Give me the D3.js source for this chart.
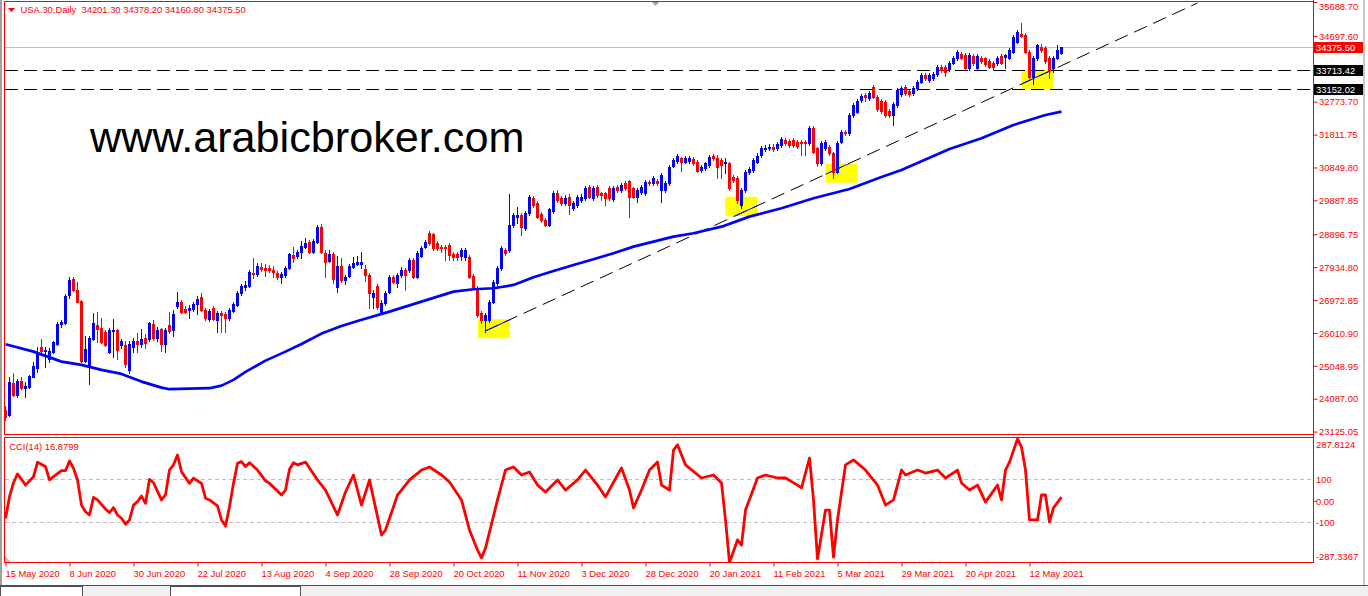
<!DOCTYPE html>
<html><head><meta charset="utf-8">
<script src="https://cdn.jsdelivr.net/npm/d3@7"></script>
<style>
html,body{margin:0;padding:0;background:#fff;overflow:hidden;}
svg{display:block;}
text{font-family:"Liberation Sans",Arial,sans-serif;}
</style></head><body>
<svg id="c" width="1368" height="596"></svg>
<script>
// ---------- DATA ----------
const symbolTitle = "USA.30,Daily  34201.30 34378.20 34160.80 34375.50";
const cciTitle = "CCI(14) 16.8799";
const watermark = "www.arabicbroker.com";

const opens = [23760,23614,24549,24198,24616,24412,24441,24734,24988,25602,25485,25251,25456,25689,26274,26304,27122,27590,27268,26947,
25201,25026,25835,26245,26167,26049,25464,26070,26099,25660,25660,24929,25602,25777,25689,25865,25844,26274,25874,26128,
25689,26245,26099,26810,26926,26712,26684,26713,26859,27064,26684,26421,26742,26391,26596,26576,26450,26663,26830,27181,
27365,27394,27765,27736,27950,27921,27912,27853,27765,27658,27707,27921,28292,28271,28380,28535,28681,28388,28681,29110,
28350,28125,28321,27365,27970,27561,27686,27950,28029,28029,27882,27707,27064,27394,26626,26889,27219,27648,27464,27707,
27853,27853,28146,27658,28271,28535,28935,28906,28643,28535,28535,28584,28321,28321,28271,28242,28242,27686,27326,26596,
26391,26391,26926,27473,27912,28438,28438,29169,29412,29461,29081,29520,29958,29812,29491,29315,29169,29578,30105,29958,
29803,29996,29657,29754,29900,29958,30289,29949,30289,30096,30096,30260,29929,30289,30192,30406,30456,30242,29996,30125,
30096,30435,30388,30456,30192,30192,30388,30904,31040,31119,31020,31040,31099,31020,30777,30827,30924,31187,31137,31070,
30973,30973,30581,30534,29754,30192,30710,30777,31020,31216,31391,31412,31459,31412,31508,31654,31625,31654,31605,31587,
31605,31558,31996,31412,30973,31412,31459,31265,30728,31605,31898,31850,32385,32482,32824,32970,32873,33213,32920,32795,
32766,32502,32385,32678,32991,33213,33087,33020,33166,33359,33555,33409,33458,33575,33798,33798,33731,33915,34043,34160,
34140,33751,34119,33769,34061,34043,33964,33915,33897,34119,34090,34061,34236,34529,34754,34725,34236,33505,34043,34383,
34336,34043,33751,34061,34201.30];
const highs = [23877,24724,24841,24666,24724,24587,24783,25172,25602,25835,25593,25572,25777,26333,26391,27151,27648,27657,27511,26976,
25923,25923,26605,26634,26450,26099,26157,26411,26128,25835,25777,25777,25865,26011,26128,25982,26333,26391,26186,26157,
26157,26634,26684,27210,26976,26800,26830,26918,27093,27181,26742,26713,26800,26655,26655,26626,26742,26918,27239,27444,
27531,27853,28204,28058,28058,28029,27999,27970,27824,27795,27970,28350,28517,28438,28701,28789,28730,28760,29169,29198,
28438,28438,28380,28263,28204,27707,28029,28242,28263,28389,27999,27765,27268,27444,26976,27239,27707,27707,27765,27941,
27912,28204,28204,28409,28555,28730,28994,28935,28701,28584,28584,28643,28380,28380,28496,28496,28292,27736,27385,26655,
26596,26976,27561,27970,28555,28496,30075,29520,29704,29520,29578,30046,30017,29871,29549,29374,29666,30163,30192,30017,
30046,30075,29871,30046,30075,30310,30339,30310,30339,30134,30134,30310,30310,30339,30397,30456,30485,30280,30251,30339,
30485,30485,30602,30514,30690,30456,30924,31128,31245,31157,31187,31187,31157,31070,30924,31011,31216,31245,31216,31128,
31137,31011,30631,30602,30251,30777,30865,31128,31274,31479,31508,31537,31537,31596,31742,31713,31684,31713,31654,31654,
31654,32064,32064,31450,31625,31654,31508,31304,31625,31947,31947,32444,32736,32853,33000,33029,33087,33263,32970,32853,
32824,32561,32766,33175,33233,33263,33146,33233,33409,33614,33614,33614,33643,33847,33847,33847,33965,34111,34286,34228,
34198,34198,34169,34169,34111,34081,34023,33964,34111,34169,34169,34344,34725,34871,35067,34783,34286,34111,34461,34461,
34403,34111,34111,34432,34378.20];
const lows = [23467,23585,24169,24148,24374,24148,24403,24724,24871,25368,25017,25172,25426,25660,26186,26274,27034,27239,26918,25163,
25163,24520,25806,25757,25719,25631,25426,25318,25251,25572,25017,24841,25456,25456,25602,25572,25777,25806,25777,25485,
25456,26011,25923,26742,26596,26596,26450,26655,26567,26655,26391,26362,26391,26040,26040,26040,26391,26626,26800,27122,
27268,27356,27619,27678,27824,27678,27795,27648,27590,27473,27648,27882,28087,28204,28204,28496,28350,28350,28643,28350,
27658,28087,27473,27201,27502,27436,27648,27912,28000,27912,27540,26742,26742,26713,26596,26830,27181,27473,27356,27648,
27268,27795,27619,27619,28233,28496,28584,28438,28438,28380,28146,28146,28146,28146,28146,28146,27619,27326,26480,26304,
26049,26333,26889,27414,27853,28292,28380,29110,29219,28877,29023,29461,29695,29374,29257,29140,29140,29520,29842,29754,
29754,29491,29608,29695,29842,29900,29958,29900,29988,29900,29754,29900,29871,30134,30134,30192,29412,29958,29842,30075,
30046,30339,30339,30339,29851,30134,30339,30865,30982,30748,30982,30982,30924,30719,30719,30777,30865,31070,30543,30543,
30681,30192,30426,29821,29657,30134,30660,30719,30982,31157,31333,31362,31333,31362,31450,31508,31450,31450,31421,31216,
31216,31508,31274,30894,30924,31362,31216,30543,30690,31567,31801,31801,32327,32444,32766,32795,32824,32882,32502,32444,
32327,32327,32093,32619,32941,32970,32941,32970,33116,33321,33409,33350,33409,33526,33643,33535,33672,33877,33994,34023,
33701,33701,33848,33701,33906,33818,33760,33701,33848,33877,33751,34023,34198,34491,34666,34198,33467,33283,33994,34228,
33906,33459,33643,34023,34160.80];
const closes = [23555,24587,24198,24616,24403,24461,24754,25046,25426,25493,25514,25493,25748,26274,26333,27093,27561,27268,26926,25201,
25543,25865,26312,26128,25757,25660,26099,26099,25514,25777,25105,25689,25777,25689,25844,25728,26304,25865,26099,25689,
26099,26078,26567,26918,26634,26616,26751,26859,27005,26684,26450,26655,26421,26605,26538,26450,26693,26859,27190,27394,
27424,27804,27736,27970,27882,27853,27853,27786,27648,27736,27921,28321,28213,28388,28555,28652,28388,28701,29110,28371,
28078,28321,27590,27970,27561,27658,27979,28058,28096,28096,27707,27181,27181,26780,26889,27181,27648,27511,27707,27853,
27707,28146,27658,28350,28496,28672,28643,28496,28496,28488,28488,28292,28242,28242,28438,28438,27658,27365,26538,26391,
26538,26926,27511,27912,28496,28341,29169,29461,29461,29119,29520,29996,29754,29412,29315,29169,29637,30105,29900,29803,
29967,29754,29803,29996,29996,30251,29996,30242,30046,30046,29949,29949,30260,30192,30339,30242,29996,29996,30192,30271,
30435,30388,30534,30388,30631,30388,30874,31070,31195,31020,31119,31119,30973,30757,30874,30973,31166,31119,30874,30924,
31020,30242,30485,29900,30192,30728,30807,31070,31195,31412,31429,31459,31391,31529,31684,31558,31508,31508,31488,31558,
31558,31996,31312,30973,31558,31587,31265,30728,31558,31898,31850,32385,32678,32795,32950,32920,33020,32920,32561,32502,
32385,32385,32707,33116,33184,33020,32991,33184,33359,33555,33458,33555,33575,33798,33701,33652,33915,34061,34236,34061,
33751,34140,33897,34119,33964,33868,33798,33798,34061,33915,34140,34286,34675,34804,34704,34236,33505,34043,34432,34286,
33964,33701,34061,34286,34375.50];

// moving average (blue line), read at sample bars
const maBars   = [0,7,14,19,24,29,34,39,41,46,51,54,57,60,65,70,74,79,84,88,96,104,112,117,122,127,132,137,142,147,152,157,162,167,172,179,186,194,202,211,219,224,236,244,252,260,264];
const maValues = [25681,25464,25172,25075,24929,24812,24587,24412,24365,24382,24394,24470,24637,24871,25201,25464,25689,25991,26216,26362,26634,26926,27219,27289,27318,27414,27639,27824,27999,28166,28341,28535,28681,28827,28925,29119,29412,29657,29949,30222,30573,30777,31390,31704,32093,32385,32482];

// CCI(14), read at its turning points
const cciBars   = [0,1,2,3,4,5,7,8,10,11,12,14,15,16,17,18,19,20,21,22,23,25,26,27,28,29,30,31,32,33,34,35,36,37,39,40,41,42,43,44,46,47,49,50,51,53,54,55,56,57,58,59,60,61,63,65,66,69,70,71,72,73,75,78,80,83,85,87,89,91,94,95,98,99,101,104,106,109,111,114,116,118,119,120,123,125,127,129,131,133,135,138,140,143,145,148,150,153,154,156,157,159,161,163,164,166,167,168,170,174,177,179,180,181,183,184,185,188,190,193,195,198,199,201,202,203,205,206,207,208,210,212,215,218,220,222,224,225,228,230,233,235,238,239,241,243,245,248,249,250,251,253,254,255,256,258,259,260,261,262,264];
const cciValues = [-81,19,84,125,100,73,112,179,159,97,112,140,140,185,151,97,-20,-51,-66,16,4,-38,-55,-32,-66,-81,-109,-89,-20,-4,22,-12,100,84,4,27,143,167,213,135,81,105,81,12,4,-24,-89,-117,-27,81,174,182,159,177,143,93,81,27,50,147,177,167,180,97,50,-66,41,120,-20,97,-159,-136,27,50,97,143,157,120,87,4,-136,-229,-265,-220,4,143,157,120,134,73,41,97,50,97,143,73,18,120,153,50,-33,50,143,180,73,50,236,260,167,106,120,83,-89,-287.3367,-182,-206,-43,106,120,106,106,73,60,199,4,-270,-43,-43,-262,-89,167,190,143,73,-20,4,143,120,143,129,143,106,143,83,50,73,-6,73,4,143,180,287.8124,250,143,-89,-89,27,27,-99,-33,16.8799];

const priceTicks = [35688.70,34697.60,32773.70,31811.75,30849.80,29887.85,28896.75,27934.80,26972.85,26010.90,25048.95,24087.00,23125.05];
const cciTicks = [287.8124,100,0,-100,-287.3367];
const cciTickLabels = ["287.8124","100","0.00","-100","-287.3367"];
const cciLevels = [100,-100];
const dateTickBars = [0,16,32,48,64,80,96,112,128,144,160,176,192,208,224,240,256];
const dateTickLabels = ["15 May 2020","8 Jun 2020","30 Jun 2020","22 Jul 2020","13 Aug 2020","4 Sep 2020","28 Sep 2020","20 Oct 2020","11 Nov 2020","3 Dec 2020","28 Dec 2020","20 Jan 2021","11 Feb 2021","5 Mar 2021","29 Mar 2021","20 Apr 2021","12 May 2021"];

const lastPrice = 34375.50;
const hLevels = [33713.42, 33152.02];
const zoneBars0 = [118.1,180,205,254];
const zoneBars1 = [126,187.9,212.9,261.9];
const zoneTop = [26412,29996,30953,33713.42];
const zoneBottom = [25856,29432,30406,33152.02];
const trendBars = [120,298];
const trendPrices = [26070,35660];

// ---------- DRAWING ----------
const svg = d3.select("#c");
const RED = "#ff0000", BLUE = "#0000ff", FS = "9.4px";
const L = 5, R = 1313;
const x = d3.scaleLinear().domain([0,327]).range([5.5,1313.5]);
const y = d3.scaleLinear().domain([23125.05,35688.70]).range([431.6,2.03]);
const cy = d3.scaleLinear().domain([-287.3367,287.8124]).range([562.6,438.9]);

const defs = svg.append("defs");
defs.append("clipPath").attr("id","mainClip").append("rect").attr("x",L).attr("y",2).attr("width",R-L).attr("height",432);
defs.append("clipPath").attr("id","cciClip").append("rect").attr("x",L).attr("y",438).attr("width",R-L).attr("height",124.5);
zoneBars0.forEach((b,i)=>{
  defs.append("clipPath").attr("id","zc"+i).append("rect")
    .attr("x",x(b)).attr("y",y(zoneTop[i])).attr("width",x(zoneBars1[i])-x(b)).attr("height",y(zoneBottom[i])-y(zoneTop[i]));
});

svg.append("rect").attr("width",1368).attr("height",596).attr("fill","#fff");
svg.append("rect").attr("x",0).attr("y",0).attr("width",2).attr("height",585).attr("fill","#a0a0a0");
svg.append("rect").attr("x",1363).attr("y",0).attr("width",2).attr("height",585).attr("fill","#c8c8c8");

const main = svg.append("g").attr("clip-path","url(#mainClip)");

// zones
zoneBars0.forEach((b,i)=>{
  main.append("rect").attr("x",x(b)).attr("y",y(zoneTop[i]))
    .attr("width",x(zoneBars1[i])-x(b)).attr("height",y(zoneBottom[i])-y(zoneTop[i]))
    .attr("fill","#ffff00");
});
// horizontal levels
hLevels.forEach(p=>{
  const yy = Math.round(y(p))+0.5;
  main.append("line").attr("x1",L).attr("x2",R).attr("y1",yy).attr("y2",yy)
    .attr("stroke","#000").attr("stroke-width",1.2).attr("stroke-dasharray","13,6");
});
// last price line
{
  const yy = Math.round(y(lastPrice))+0.5;
  main.append("line").attr("x1",L).attr("x2",R).attr("y1",yy).attr("y2",yy).attr("stroke","#c0c0c0").attr("stroke-width",1);
}
// trend line
main.append("line").attr("x1",x(trendBars[0])).attr("y1",y(trendPrices[0]))
  .attr("x2",x(trendBars[1])).attr("y2",y(trendPrices[1]))
  .attr("stroke","#000").attr("stroke-width",1).attr("stroke-dasharray","14,7");
zoneBars0.forEach((b,i)=>{
  main.append("g").attr("clip-path",`url(#zc${i})`).append("line")
    .attr("x1",x(trendBars[0])).attr("y1",y(trendPrices[0]))
    .attr("x2",x(trendBars[1])).attr("y2",y(trendPrices[1]))
    .attr("stroke",BLUE).attr("stroke-width",1);
});

// candles
const idx = d3.range(closes.length);
const cg = main.append("g");
idx.forEach(i=>{
  const o=opens[i], c=closes[i], h=highs[i], l=lows[i];
  const col = c>=o ? BLUE : RED;
  const cx = Math.round(x(i)-0.5)+0.5;
  cg.append("line").attr("x1",cx).attr("x2",cx).attr("y1",Math.round(y(h))).attr("y2",Math.round(y(l))+1)
    .attr("stroke",col).attr("stroke-width",1);
  const t = Math.round(y(Math.max(o,c))), btm = Math.round(y(Math.min(o,c)));
  cg.append("rect").attr("x",cx-1.5).attr("y",t).attr("width",3).attr("height",Math.max(1,btm-t+1)).attr("fill",col);
});

// moving average
const maLine = d3.line().x(d=>x(d[0])).y(d=>y(d[1]));
main.append("path").datum(maBars.map((b,i)=>[b,maValues[i]]))
  .attr("d",maLine).attr("fill","none").attr("stroke",BLUE).attr("stroke-width",2.7).attr("stroke-linejoin","round");

// watermark
svg.append("text").attr("x",90).attr("y",152).attr("font-size","43.2px").attr("fill","#000").text(watermark);

// header
svg.append("path").attr("d","M8,8 L15,8 L11.5,12 Z").attr("fill",RED);
svg.append("text").attr("x",20.5).attr("y",13.3).attr("font-size",FS).attr("fill",RED)
  .style("white-space","pre").text(symbolTitle);
svg.append("path").attr("d","M651,1 L660,1 L655.5,6 Z").attr("fill","#a0a0a0");

// frames
svg.append("rect").attr("x",4.5).attr("y",1.5).attr("width",R-4).attr("height",433).attr("fill","none").attr("stroke",RED);
svg.append("rect").attr("x",4.5).attr("y",437.5).attr("width",R-4).attr("height",125).attr("fill","none").attr("stroke",RED);
svg.append("line").attr("x1",R+0.5).attr("x2",R+0.5).attr("y1",0).attr("y2",563).attr("stroke",RED);

// price axis
const pa = svg.append("g").attr("transform",`translate(${R+0.5},0)`)
  .call(d3.axisRight(y).tickValues(priceTicks).tickSize(4).tickFormat(d=>d.toFixed(2)));
pa.select(".domain").remove();
pa.selectAll(".tick line").attr("stroke",RED);
pa.selectAll(".tick text").attr("fill",RED).attr("font-size",FS).attr("font-family","Liberation Sans, Arial, sans-serif")
  .attr("x",5.5).attr("dy","0.34em");
pa.selectAll(".tick").filter(d=>y(d)<4).select("text").attr("dy","0.75em");

// price tags
function tag(p,bg){
  const yy = Math.round(y(p));
  svg.append("rect").attr("x",R+1).attr("y",yy-5).attr("width",49).attr("height",11).attr("fill",bg);
  svg.append("text").attr("x",R+3).attr("y",yy+3.5).attr("font-size",FS).attr("fill","#fff").text(p.toFixed(2));
}
tag(lastPrice,RED);
hLevels.forEach(p=>tag(p,"#000"));

// CCI panel
const cci = svg.append("g").attr("clip-path","url(#cciClip)");
cciLevels.forEach(v=>{
  const yy = Math.round(cy(v))+0.5;
  cci.append("line").attr("x1",L).attr("x2",R).attr("y1",yy).attr("y2",yy)
    .attr("stroke","#c0c0c0").attr("stroke-dasharray","4,3");
});
cci.append("path").datum(cciBars.map((b,i)=>[b,cciValues[i]]))
  .attr("d",d3.line().x(d=>x(d[0])).y(d=>cy(d[1])))
  .attr("fill","none").attr("stroke",RED).attr("stroke-width",2.8).attr("stroke-linejoin","round");
svg.append("text").attr("x",9.3).attr("y",450).attr("font-size",FS).attr("fill",RED).text(cciTitle);
svg.append("path").attr("d","M5,556 L5,562 L11,562 Z").attr("fill","#c0c0c0");

const ca = svg.append("g").attr("transform",`translate(${R+0.5},0)`)
  .call(d3.axisRight(cy).tickValues(cciTicks).tickSize(3).tickFormat((d,i)=>cciTickLabels[i]));
ca.select(".domain").remove();
ca.selectAll(".tick line").attr("stroke",RED).attr("opacity",d=>d===0?1:0);
ca.selectAll(".tick text").attr("fill",RED).attr("font-size",FS).attr("font-family","Liberation Sans, Arial, sans-serif")
  .attr("x",2.5).attr("dy",d=> d>200 ? "0.95em" : (d<-200 ? "-0.3em" : "0.34em"));

// date axis
const da = svg.append("g").attr("transform","translate(0,562.5)")
  .call(d3.axisBottom(x).tickValues(dateTickBars).tickSize(4).tickFormat((d,i)=>dateTickLabels[i]));
da.select(".domain").remove();
da.selectAll(".tick line").attr("stroke",RED);
da.selectAll(".tick text").attr("fill",RED).attr("font-size",FS).attr("font-family","Liberation Sans, Arial, sans-serif")
  .attr("text-anchor","start").attr("x",-0.5).attr("y",14.5).attr("dy",0);

// bottom strip (tabs)
svg.append("rect").attr("x",0).attr("y",586).attr("width",1368).attr("height",10).attr("fill","#f0f0f0");
svg.append("line").attr("x1",0).attr("x2",1368).attr("y1",585.5).attr("y2",585.5).attr("stroke","#505050");
svg.append("rect").attr("x",0.5).attr("y",586.5).attr("width",82).attr("height",12).attr("fill","#fff").attr("stroke","#505050");
svg.append("rect").attr("x",170.5).attr("y",586.5).attr("width",130).attr("height",12).attr("fill","#fff").attr("stroke","#505050");
</script>
</body></html>
